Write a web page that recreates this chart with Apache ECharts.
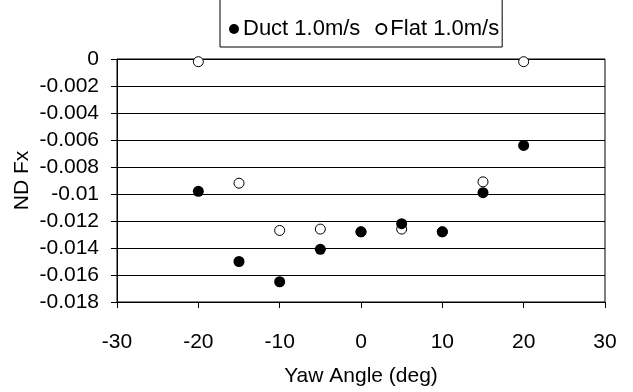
<!DOCTYPE html>
<html>
<head>
<meta charset="utf-8">
<script src="https://cdn.jsdelivr.net/npm/echarts@6/dist/echarts.min.js"></script>
<style>
  html, body { margin: 0; padding: 0; background: #fff; }
  #chart { width: 633px; height: 392px; }
</style>
</head>
<body>
<div id="chart"></div>
<script>
// yaw angles (deg)
const yawAngles = [-20, -15, -10, -5, 0, 5, 10, 15, 20];
// ND Fx
const ductValues = [-0.0098, -0.0150, -0.0165, -0.0141, -0.0128, -0.0122, -0.0128, -0.0099, -0.0064];
const flatValues = [-0.0002, -0.0092, -0.0127, -0.0126, -0.0128, -0.0126, -0.0128, -0.0091, -0.0002];
const xTickLabels = ['-30', '-20', '-10', '0', '10', '20', '30'];
const yTickLabels = ['0', '-0.002', '-0.004', '-0.006', '-0.008', '-0.01', '-0.012', '-0.014', '-0.016', '-0.018'];

const font = 'Liberation Sans, Arial, sans-serif';
const chart = echarts.init(document.getElementById('chart'));

const pairs = (vals) => yawAngles.map((x, i) => [x, vals[i]]);

const option = {
  animation: false,
  backgroundColor: '#fff',
  textStyle: { fontFamily: font, color: '#000' },
  legend: {
    data: ['Duct 1.0m/s', 'Flat 1.0m/s'],
    left: 220,
    top: -6,
    padding: [24, 3, 7, 9],
    itemWidth: 10,
    itemHeight: 10,
    itemGap: 15,
    borderColor: '#000',
    borderWidth: 1,
    textStyle: { fontFamily: font, fontSize: 22, color: '#000', padding: [0, 0, 0, -1] },
  },
  grid: {
    left: 117,
    right: 28,
    top: 59,
    bottom: 87,
    show: true,
    borderColor: '#000',
    borderWidth: 1,
    containLabel: false,
  },
  xAxis: {
    type: 'value',
    min: -30,
    max: 30,
    interval: 10,
    name: 'Yaw Angle (deg)',
    nameLocation: 'middle',
    nameGap: 64,
    nameMoveOverlap: false,
    nameTextStyle: { fontFamily: font, fontSize: 21, color: '#000' },
    axisLine: { show: true, onZero: false, lineStyle: { color: '#000', width: 1 } },
    axisTick: { show: true, length: 6, lineStyle: { color: '#000' } },
    axisLabel: {
      fontFamily: font, fontSize: 21, color: '#000', margin: 30,
      formatter: (v) => xTickLabels[Math.round((v + 30) / 10)],
    },
    splitLine: { show: false },
  },
  yAxis: {
    type: 'value',
    min: -0.018,
    max: 0,
    interval: 0.002,
    name: 'ND Fx',
    nameLocation: 'middle',
    nameGap: 84,
    nameMoveOverlap: false,
    nameTextStyle: { fontFamily: font, fontSize: 21, color: '#000' },
    axisLine: { show: true, onZero: false, lineStyle: { color: '#000', width: 1 } },
    axisTick: { show: true, length: 6, lineStyle: { color: '#000' } },
    axisLabel: {
      fontFamily: font, fontSize: 21, color: '#000', margin: 18,
      formatter: (v) => yTickLabels[Math.round(-v / 0.002)],
    },
    splitLine: { show: true, lineStyle: { color: '#000', width: 1 } },
  },
  series: [
    {
      name: 'Flat 1.0m/s',
      type: 'scatter',
      data: pairs(flatValues),
      symbol: 'circle',
      symbolSize: 10,
      itemStyle: { color: '#fff', borderColor: '#000', borderWidth: 1, opacity: 1 },
      z: 2,
    },
    {
      name: 'Duct 1.0m/s',
      type: 'scatter',
      data: pairs(ductValues),
      symbol: 'circle',
      symbolSize: 11,
      itemStyle: { color: '#000', opacity: 1 },
      z: 3,
    },
  ],
};

chart.setOption(option);
</script>
</body>
</html>
